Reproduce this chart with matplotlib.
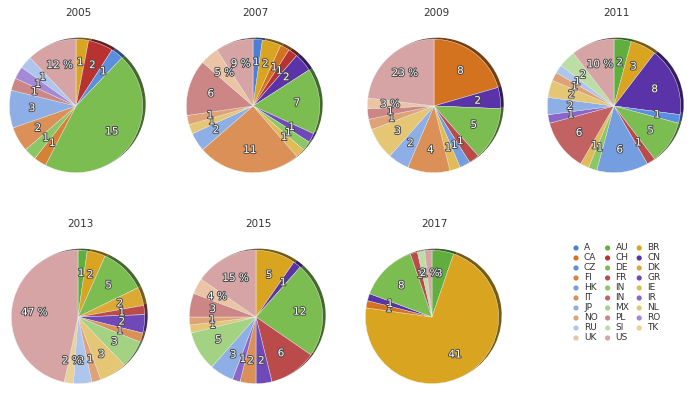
import matplotlib.pyplot as plt
import matplotlib.patheffects as pe
import numpy as np
from matplotlib.colors import to_rgb

# country codes as shown in the legend (alphabetical, row by row)
countries = ['A', 'AU', 'BR', 'CA', 'CH', 'CN', 'CZ', 'DE', 'DK', 'FI',
             'FR', 'GR', 'HK', 'IN', 'IE', 'IT', 'IN', 'IR', 'JP', 'MX',
             'NL', 'NO', 'PL', 'RO', 'RU', 'SI', 'TK', 'UK', 'US']
colors = ['#4a80d8', '#5fae3e', '#d9a521', '#d4731f', '#b83232', '#5b33a8',
          '#5a8fe0', '#7cbd52', '#dcaa34', '#d68234', '#bb4a4a', '#7049b8',
          '#749ee0', '#8cc766', '#e0bb58', '#da9056', '#c26262', '#8a66c8',
          '#8eaee6', '#a2d282', '#e4c674', '#dea276', '#cc8686', '#a48ad6',
          '#aec6ee', '#bcdea4', '#ead296', '#eac4a4', '#d6a4a4']
# these get a percentage label instead of a count
pct_countries = ['TK', 'UK', 'US']

years = ['2005', '2007', '2009', '2011', '2013', '2015', '2017']
#          A AU BR CA CH CN CZ DE DK FI FR GR HK IN IE IT IN IR JP MX NL NO PL RO RU SI TK UK US
c2005 = [0, 0, 1, 0, 2, 0, 1, 15, 0, 1, 0, 0, 0, 1, 0, 2, 0, 0, 3, 0, 0, 0, 1, 1, 1, 0, 0, 0, 4]
c2007 = [1, 0, 2, 1, 1, 2, 0, 7, 0, 0, 0, 1, 0, 1, 1, 11, 0, 0, 2, 0, 1, 1, 6, 0, 0, 0, 0, 2, 4]
c2009 = [0, 0, 0, 8, 0, 2, 0, 5, 0, 0, 1, 0, 1, 0, 1, 4, 0, 0, 2, 0, 3, 1, 1, 0, 0, 0, 0, 1, 9]
c2011 = [0, 2, 3, 0, 0, 8, 1, 5, 0, 0, 1, 0, 6, 1, 1, 0, 6, 1, 2, 0, 2, 1, 0, 0, 1, 2, 0, 0, 5]
c2013 = [0, 1, 2, 0, 0, 0, 0, 5, 2, 0, 1, 2, 0, 0, 0, 1, 0, 0, 0, 3, 3, 1, 0, 0, 2, 0, 1, 0, 21]
c2015 = [0, 0, 5, 0, 0, 1, 0, 12, 0, 0, 6, 2, 0, 0, 0, 2, 0, 1, 3, 5, 1, 1, 3, 0, 0, 0, 0, 2, 8]
c2017 = [0, 3, 41, 1, 0, 1, 0, 8, 0, 0, 1, 0, 0, 0, 0, 0, 0, 0, 0, 0, 0, 0, 0, 0, 0, 1, 0, 0, 1]
counts = [c2005, c2007, c2009, c2011, c2013, c2015, c2017]

W, H = 700, 399
fig = plt.figure(figsize=(W / 100, H / 100), dpi=100)
fig.patch.set_facecolor('white')

# pie centres in pixels (from top-left) and radius
centres = [(78, 106), (255, 106), (436, 106), (616, 106),
           (80, 317), (258, 317), (434, 317)]
R = 70


def darker(c, f=0.55):
    r, g, b = to_rgb(c)
    return (r * f, g * f, b * f)


outline = [pe.withStroke(linewidth=1.3, foreground='#444444')]

for year, vals, (cx, cy) in zip(years, counts, centres):
    ax = fig.add_axes([(cx - R) / W, (H - cy - R) / H, 2 * R / W, 2 * R / H])
    idx = [i for i, v in enumerate(vals) if v > 0]
    v = np.array([vals[i] for i in idx], dtype=float)
    cols = [colors[i] for i in idx]
    # darker copy a bit to the upper right gives the 3D rim
    ax.pie(v, colors=[darker(c) for c in cols], startangle=90,
           counterclock=False, radius=1.0, center=(0.045, 0.025),
           wedgeprops=dict(linewidth=0))
    wedges, _ = ax.pie(v, colors=cols, startangle=90, counterclock=False,
                       radius=1.0, wedgeprops=dict(linewidth=0.3, edgecolor='#f4f4f4'))
    total = v.sum()
    for w, i, val in zip(wedges, idx, v):
        ang = np.deg2rad((w.theta1 + w.theta2) / 2)
        if countries[i] in pct_countries:
            lab = '%d %%' % round(100 * val / total)
        else:
            lab = '%d' % val
        ax.text(0.66 * np.cos(ang), 0.66 * np.sin(ang), lab, ha='center',
                va='center', color='white', fontsize=7.5, path_effects=outline)
    ax.set_xlim(-1.02, 1.08)
    ax.set_ylim(-1.05, 1.05)
    ax.set_aspect('auto')
    ax.axis('off')
    fig.text(cx / W, 1 - (cy - 93) / H, year, ha='center', va='center',
             fontsize=7.5, color='#333333')

# legend, three columns filled row by row
lax = fig.add_axes([0, 0, 1, 1], facecolor='none')
lax.set_xlim(0, W)
lax.set_ylim(H, 0)
lax.axis('off')
for k, (name, c) in enumerate(zip(countries, colors)):
    col, row = k % 3, k // 3
    x = 576 + col * 31.6
    y = 248 + row * 10
    lax.scatter([x], [y], s=14, color=c, edgecolors='none')
    lax.text(x + 8, y, name, fontsize=6.5, va='center', ha='left', color='#333333')

fig.savefig('out.png', dpi=100)
